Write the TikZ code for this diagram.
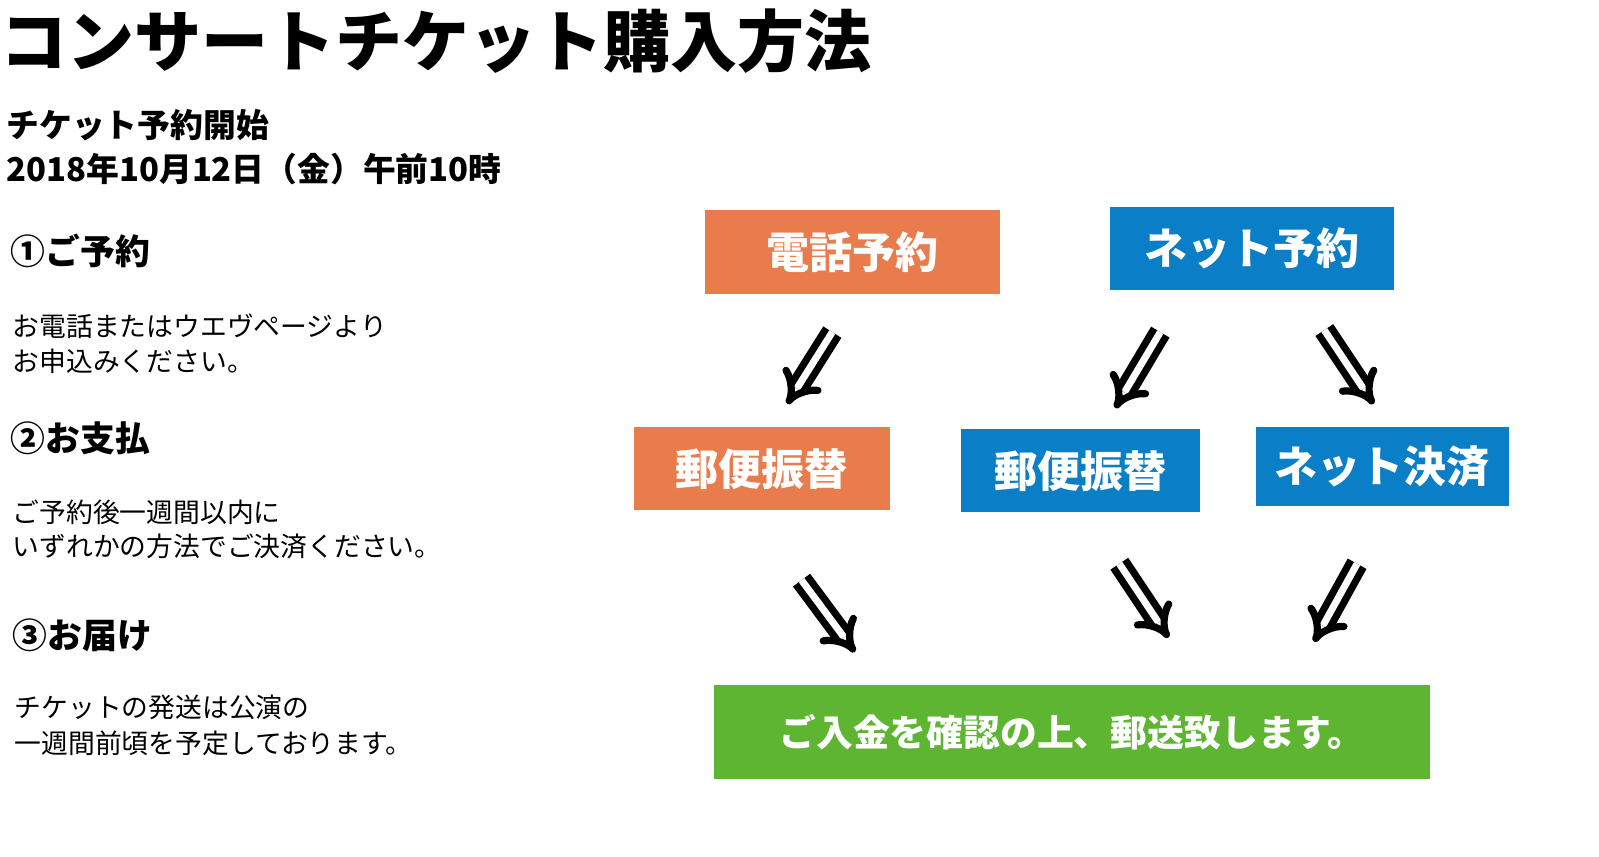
\documentclass[tikz,border=0pt]{standalone}
\usepackage{fontspec}
\setmainfont{Noto Sans CJK JP}
\usetikzlibrary{arrows.meta}

\definecolor{telorange}{HTML}{E97C4C}
\definecolor{netblue}{HTML}{0A7FC8}
\definecolor{okgreen}{HTML}{5DB531}

\tikzset{
  stepbox/.style={fill=#1, text=white, font=\bfseries\fontsize{21.5pt}{24pt}\selectfont, inner sep=0pt},
  note/.style={anchor=west, inner sep=0pt, font=\fontsize{13.4pt}{15pt}\selectfont},
  head/.style={anchor=west, inner sep=0pt, font=\bfseries\fontsize{17.4pt}{20pt}\selectfont},
  dblarrow/.style={double, double distance=3.5pt, line width=3.6pt, -{Implies}}
}

\begin{document}
\begin{tikzpicture}[x=0.5125pt, y=-0.5125pt]
  \useasboundingbox (0,0) rectangle (1560,835.3);

  % Title and left column
  \node[anchor=west, inner sep=0pt, font=\bfseries\fontsize{33.5pt}{36pt}\selectfont] (title) at (0,40) {コンサートチケット購入方法};
  \node[note, font=\bfseries\fontsize{16.4pt}{18pt}\selectfont] (start1) at (6,122) {チケット予約開始};
  \node[note, font=\bfseries\fontsize{16.4pt}{18pt}\selectfont] (start2) at (6,165) {2018年10月12日（金）午前10時};

  \node[head] (h1) at (10,245) {①ご予約};
  \node[note] (t1a) at (12,318) {お電話またはウエヴページより};
  \node[note] (t1b) at (12,352) {お申込みください。};

  \node[head] (h2) at (10,428) {②お支払};
  \node[note] (t2a) at (12,500) {ご予約後一週間以内に};
  \node[note] (t2b) at (12,533) {いずれかの方法でご決済ください。};

  \node[head] (h3) at (12,620) {③お届け};
  \node[note] (t3a) at (14,690) {チケットの発送は公演の};
  \node[note] (t3b) at (14,725) {一週間前頃を予定しております。};

  % Boxes
  \node[stepbox=telorange, minimum width=147.6pt, minimum height=42pt] (tel) at (832,246) {電話予約};
  \node[stepbox=netblue, minimum width=142pt, minimum height=41.5pt] (net) at (1221.5,242.5) {ネット予約};
  \node[stepbox=telorange, minimum width=128pt, minimum height=41.5pt] (post1) at (743,457.5) {郵便振替};
  \node[stepbox=netblue, minimum width=119.4pt, minimum height=41.5pt] (post2) at (1054.5,459.5) {郵便振替};
  \node[stepbox=netblue, minimum width=126.6pt, minimum height=39.5pt] (card) at (1348.5,455.5) {ネット決済};
  \node[stepbox=okgreen, minimum width=357.7pt, minimum height=47.1pt, font=\bfseries\fontsize{18.4pt}{21pt}\selectfont] (done) at (1046,714) {ご入金を確認の上、郵送致します。};

  % Arrow ends
  \coordinate (a1s) at (812,324); \coordinate (a1e) at (768,394);
  \coordinate (a2s) at (1132,324); \coordinate (a2e) at (1088,398);
  \coordinate (a3s) at (1292,322); \coordinate (a3e) at (1340,394);
  \coordinate (a4s) at (782,566); \coordinate (a4e) at (834,636);
  \coordinate (a5s) at (1092,550); \coordinate (a5e) at (1140,622);
  \coordinate (a6s) at (1324,550); \coordinate (a6e) at (1282,626);

  \draw[dblarrow] (a1s) -- (a1e);
  \draw[dblarrow] (a2s) -- (a2e);
  \draw[dblarrow] (a3s) -- (a3e);
  \draw[dblarrow] (a4s) -- (a4e);
  \draw[dblarrow] (a5s) -- (a5e);
  \draw[dblarrow] (a6s) -- (a6e);
\end{tikzpicture}
\end{document}
